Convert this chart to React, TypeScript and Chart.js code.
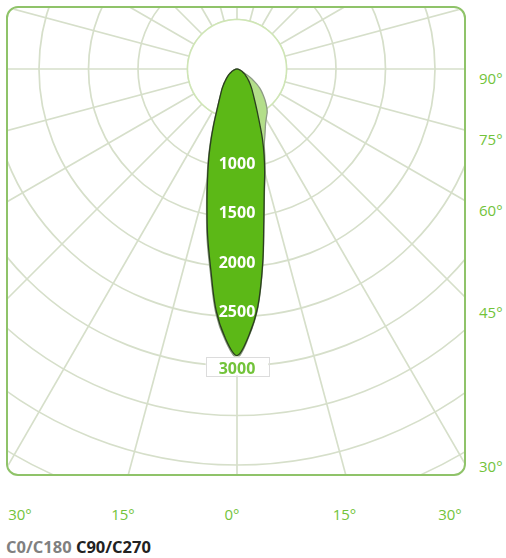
import React, { useEffect, useRef } from "react";
import { Chart, registerables } from "chart.js";

Chart.register(...registerables);

// ---- data ----
const STEP_DEG = 2.5;
// gamma angles 0..90 deg (from nadir) in 2.5 deg steps
const halfAngles = [
  0, 2.5, 5, 7.5, 10, 12.5, 15, 17.5, 20, 22.5, 25, 27.5, 30, 32.5, 35, 37.5, 40, 42.5, 45,
  47.5, 50, 52.5, 55, 57.5, 60, 62.5, 65, 67.5, 70, 72.5, 75, 77.5, 80, 82.5, 85, 87.5, 90,
];
// C90 half-plane (right side), cd
const c90Values = [
  2895, 2700, 2410, 1985, 1560, 1270, 1080, 910, 750, 600, 490, 410, 350, 305, 270, 240, 212,
  188, 166, 146, 128, 113, 100, 87, 75, 64, 54, 45, 37, 30, 23, 17, 12, 8, 4, 2, 0,
];
// C270 half-plane (left side), cd
const c270Values = [
  2895, 2720, 2440, 2035, 1710, 1400, 1150, 950, 770, 620, 500, 415, 355, 310, 275, 245, 215,
  190, 167, 147, 129, 114, 100, 87, 75, 64, 54, 45, 37, 30, 23, 17, 12, 8, 4, 2, 0,
];
// C0 half-plane (right side), cd
const c0Values = [
  2905, 2710, 2420, 1995, 1570, 1280, 1095, 935, 805, 735, 675, 625, 588, 558, 532, 495, 455,
  415, 375, 338, 298, 252, 202, 152, 110, 75, 50, 35, 25, 18, 12, 8, 5, 3, 1, 0, 0,
];
// C180 half-plane (left side), cd
const c180Values = [
  2915, 2740, 2470, 2065, 1740, 1420, 1170, 965, 785, 630, 510, 420, 358, 312, 276, 245, 215,
  190, 167, 147, 129, 114, 100, 87, 75, 64, 54, 45, 37, 30, 23, 17, 12, 8, 4, 2, 0,
];
const innerRingValue = 500;
const scaleMax = 5000;
const scaleStep = 500;
const rayStepDeg = 15;
const ringLabels = [1000, 1500, 2000, 2500, 3000];
const sideLabels = ["90°", "75°", "60°", "45°", "30°"];
const bottomLabels = ["30°", "15°", "0°", "15°", "30°"];
const legendLabels = ["C0/C180", "C90/C270"];

// ---- styles ----
const GRID = "#d6dfca";
const FRAME = "#8fc369";
const GREEN_TEXT = "#72c33a";
const DARK_FILL = "#5cb817";
const DARK_LINE = "#2b3f1f";
const LIGHT_FILL = "#b3de8a";
const LIGHT_LINE = "#8e9b86";
const INNER_LINE = "#cfe6b5";
const FONT = '"Open Sans", "DejaVu Sans", sans-serif';

const N = Math.round(360 / STEP_DEG);
const labels = Array.from({ length: N }, (_, i) => String(i * STEP_DEG));
const halfCount = halfAngles.length - 1;

function buildPlane(left: number[], right: number[]) {
  return Array.from({ length: N }, (_, i) => {
    if (i <= halfCount) return left[i];
    if (i >= N - halfCount) return right[N - i];
    return 0;
  });
}

const ringLabelPlugin = {
  id: "ringLabels",
  afterDatasetsDraw(chart: any) {
    const s = chart.scales.r;
    const ctx = chart.ctx;
    ctx.save();
    ctx.font = `bold 16px ${FONT}`;
    ctx.textAlign = "center";
    ctx.textBaseline = "middle";
    ringLabels.forEach((v, i) => {
      const x = s.xCenter;
      const y = s.yCenter + s.getDistanceFromCenterForValue(v);
      const last = i === ringLabels.length - 1;
      if (last) {
        const w = ctx.measureText(String(v)).width + 26;
        const h = 19;
        ctx.fillStyle = "#ffffff";
        ctx.fillRect(x - w / 2, y - h / 2, w, h);
        ctx.strokeStyle = "#dcdcdc";
        ctx.lineWidth = 1;
        ctx.strokeRect(Math.round(x - w / 2) + 0.5, Math.round(y - h / 2) + 0.5, Math.round(w), h);
        ctx.fillStyle = GREEN_TEXT;
        ctx.fillText(String(v), x, y + 3);
      } else {
        ctx.fillStyle = "#ffffff";
        ctx.fillText(String(v), x, y - 4);
      }
    });
    ctx.restore();
  },
};

const SIZE = 990;

export default function App() {
  const ref = useRef<HTMLCanvasElement>(null);

  useEffect(() => {
    const prevMargin = document.body.style.margin;
    document.body.style.margin = "0";
    const rayEvery = Math.round(rayStepDeg / STEP_DEG);
    const chart = new Chart(ref.current as HTMLCanvasElement, {
      type: "radar",
      data: {
        labels,
        datasets: [
          {
            label: legendLabels[1],
            data: buildPlane(c270Values, c90Values),
            backgroundColor: DARK_FILL,
            borderColor: DARK_LINE,
            borderWidth: 1.3,
            fill: true,
          },
          {
            label: legendLabels[0],
            data: buildPlane(c180Values, c0Values),
            backgroundColor: LIGHT_FILL,
            borderColor: LIGHT_LINE,
            borderWidth: 1.3,
            fill: true,
          },
          {
            label: "inner",
            data: labels.map(() => innerRingValue),
            backgroundColor: "#ffffff",
            borderColor: INNER_LINE,
            borderWidth: 1.5,
            fill: true,
            tension: 0,
          },
        ],
      },
      options: {
        responsive: false,
        animation: false,
        events: [],
        layout: { padding: 0 },
        plugins: { legend: { display: false }, tooltip: { enabled: false } },
        elements: {
          point: { radius: 0, hoverRadius: 0 },
          line: { tension: 0.35 },
        },
        scales: {
          r: {
            min: 0,
            max: scaleMax,
            startAngle: 180,
            ticks: { display: false, stepSize: scaleStep },
            grid: { circular: true, color: GRID, lineWidth: 1.7 },
            angleLines: {
              display: true,
              color: (c: any) => (c.index % rayEvery === 0 ? GRID : "rgba(0,0,0,0)"),
              lineWidth: 1.7,
            },
            pointLabels: { display: false },
          },
        },
      } as any,
      plugins: [ringLabelPlugin],
    });
    return () => {
      chart.destroy();
      document.body.style.margin = prevMargin;
    };
  }, []);

  const sideY = [77.5, 139, 210, 312, 466];
  const bottomX = [20, 123, 232, 344.5, 450];

  return (
    <div
      style={{
        position: "relative",
        width: 506,
        height: 558,
        overflow: "hidden",
        background: "#fff",
        fontFamily: FONT,
      }}
    >
      <div
        style={{
          position: "absolute",
          left: 6,
          top: 6,
          width: 460,
          height: 470,
          border: `2px solid ${FRAME}`,
          borderRadius: 12,
          overflow: "hidden",
          boxSizing: "border-box",
          background: "#fff",
        }}
      >
        <canvas
          ref={ref}
          width={SIZE}
          height={SIZE}
          style={{ position: "absolute", left: -266, top: -434, width: SIZE, height: SIZE }}
        />
      </div>
      {sideLabels.map((t, i) => (
        <div
          key={"s" + i}
          style={{
            position: "absolute",
            left: 479,
            top: sideY[i],
            transform: "translateY(-50%)",
            color: GREEN_TEXT,
            fontSize: 15,
            lineHeight: "18px",
            whiteSpace: "nowrap",
          }}
        >
          {t}
        </div>
      ))}
      {bottomLabels.map((t, i) => (
        <div
          key={"b" + i}
          style={{
            position: "absolute",
            left: bottomX[i],
            top: 514,
            transform: "translate(-50%,-50%)",
            color: GREEN_TEXT,
            fontSize: 15,
            lineHeight: "18px",
            whiteSpace: "nowrap",
          }}
        >
          {t}
        </div>
      ))}
      <div
        style={{
          position: "absolute",
          left: 6,
          top: 537,
          fontSize: 16.5,
          fontWeight: 700,
          lineHeight: "20px",
          whiteSpace: "nowrap",
        }}
      >
        <span style={{ color: "#808080" }}>{legendLabels[0]}</span>{" "}
        <span style={{ color: "#222222" }}>{legendLabels[1]}</span>
      </div>
    </div>
  );
}
